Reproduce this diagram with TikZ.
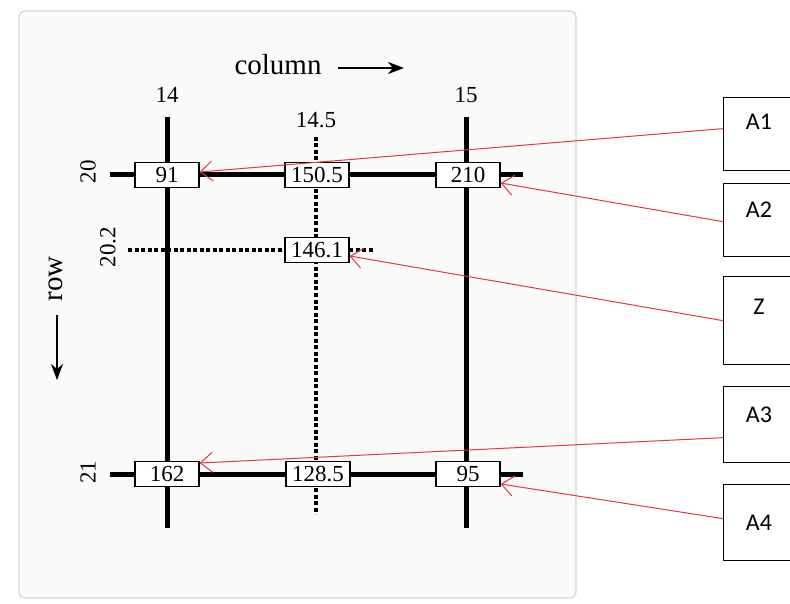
\documentclass[tikz,border=0pt]{standalone}
\usepackage{fontspec}
\setmainfont{Liberation Serif}
\newfontfamily\sansf{Carlito}
\usetikzlibrary{arrows.meta,calc}
\definecolor{panelbg}{RGB}{250,250,248}
\definecolor{panelbd}{RGB}{214,214,212}
\definecolor{redline}{RGB}{226,55,70}
\begin{document}
\begin{tikzpicture}[x=1pt,y=-1pt,
  gridline/.style={line width=5pt},
  dotline/.style={line width=3.5pt,dash pattern=on 4pt off 2.5pt},
  val/.style={draw,line width=1.3pt,fill=white,minimum width=64pt,minimum height=25pt,inner sep=0pt,font=\fontsize{23}{23}\selectfont},
  tagbox/.style={draw,line width=1.3pt,minimum width=90pt,anchor=north west,inner sep=0pt},
  tagtext/.style={font=\sansf\fontsize{24}{24}\selectfont},
  axlabel/.style={font=\fontsize{23}{23}\selectfont},
  titlelabel/.style={font=\fontsize{29}{29}\selectfont},
  axarrow/.style={line width=1.5pt,-{Stealth[length=16pt,width=12pt,inset=5pt]}},
  redarr/.style={draw=redline,line width=1pt,-{Straight Barb[length=12pt,width=20pt]}}]
\useasboundingbox (0,0) rectangle (790,604);
\clip (0,0) rectangle (790,604);
\fill[white] (0,0) rectangle (790,604);
% panel
\draw[panelbd,fill=panelbg,line width=1.2pt,rounded corners=6pt] (19,11) rectangle (576,598);
% axis titles
\node[titlelabel] (coltitle) at (278,65) {column};
\coordinate (cs) at (338,68);
\coordinate (ce) at (404,68);
\draw[axarrow] (cs) -- (ce);
\node[titlelabel,rotate=90] (rowtitle) at (56,279) {row};
\coordinate (rs) at (57,315);
\coordinate (re) at (57,380);
\draw[axarrow] (rs) -- (re);
% column labels
\node[axlabel] (c14) at (167,95) {14};
\node[axlabel] (c15) at (466,95) {15};
\node[axlabel] (c145) at (316,120) {14.5};
% row labels
\node[axlabel,rotate=90] (r20) at (88,172) {20};
\node[axlabel,rotate=90] (r21) at (88,472) {21};
\node[axlabel,rotate=90] (r202) at (108,247) {20.2};
% grid lines
\coordinate (v14t) at (167,117); \coordinate (v14b) at (167,528);
\coordinate (v15t) at (466,117); \coordinate (v15b) at (466,528);
\coordinate (h20l) at (110,175); \coordinate (h20r) at (523,175);
\coordinate (h21l) at (110,474); \coordinate (h21r) at (523,474);
\coordinate (vdt) at (316,137); \coordinate (vdb) at (316,514);
\coordinate (hdl) at (128,250); \coordinate (hdr) at (374,250);
\draw[gridline] (v14t) -- (v14b);
\draw[gridline] (v15t) -- (v15b);
\draw[gridline] (h20l) -- (h20r);
\draw[gridline] (h21l) -- (h21r);
\draw[dotline] (vdt) -- (vdb);
\draw[dotline] (hdl) -- (hdr);
% values
\node[val] (v91) at (167,175) {91};
\node[val] (v1505) at (317,175) {150.5};
\node[val] (v210) at (468,175) {210};
\node[val] (v1461) at (317,250) {146.1};
\node[val] (v162) at (167,474) {162};
\node[val] (v1285) at (318,474) {128.5};
\node[val] (v95) at (468,474) {95};
% right boxes
\node[tagbox,minimum height=73pt] (A1) at (723,97) {};
\node[tagbox,minimum height=73pt] (A2) at (723,183) {};
\node[tagbox,minimum height=88pt] (Z) at (723,276) {};
\node[tagbox,minimum height=76pt] (A3) at (723,386) {};
\node[tagbox,minimum height=76pt] (A4) at (723,484) {};
\node[tagtext] (tA1) at (759,122) {A1};
\node[tagtext] (tA2) at (759,210) {A2};
\node[tagtext] (tZ) at (759,307) {Z};
\node[tagtext] (tA3) at (759,415) {A3};
\node[tagtext] (tA4) at (759,523) {A4};
% red arrows
\draw[redarr] ([yshift=5.5pt]A1.west) -- ([yshift=3pt]v91.east);
\draw[redarr] ([yshift=-1.5pt]A2.west) -- ([yshift=-8pt]v210.east);
\draw[redarr] (Z.west) -- ([yshift=-6pt]v1461.east);
\draw[redarr] ([yshift=-13pt]A3.west) -- ([yshift=11pt]v162.east);
\draw[redarr] ([yshift=4pt]A4.west) -- ([yshift=-10pt]v95.east);
\end{tikzpicture}
\end{document}
